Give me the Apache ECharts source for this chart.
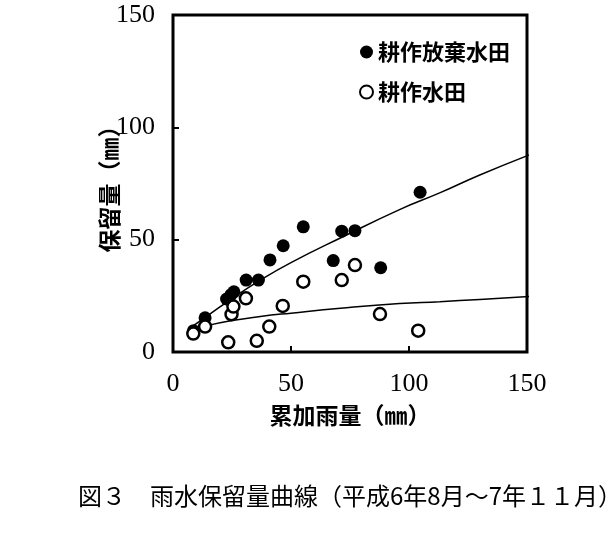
<!DOCTYPE html>
<html>
<head>
<meta charset="utf-8">
<script src="https://cdn.jsdelivr.net/npm/echarts@6/dist/echarts.min.js"></script>
<style>
  html, body { margin: 0; padding: 0; background: #fff; }
  #main { width: 611px; height: 551px; }
</style>
</head>
<body>
<div id="main"></div>
<script>
// 耕作放棄水田 (filled) : [累加雨量, 保留量]
var abandoned = [
  [8.7, 9.5], [13.6, 15.2], [22.7, 23.6], [24.6, 25.5], [25.8, 26.8],
  [31, 32], [36.2, 32], [41.1, 41], [46.7, 47.3], [55.2, 55.7],
  [67.9, 40.7], [71.5, 53.8], [77.1, 54], [88, 37.5], [104.7, 71.1]
];
// 耕作水田 (open)
var cultivated = [
  [8.6, 8.2], [13.6, 11.3], [23.4, 4.3], [24.8, 16.8], [25.6, 20.2],
  [30.9, 23.9], [35.5, 5.0], [40.8, 11.3], [46.5, 20.5], [55.2, 31.3],
  [71.5, 32], [77.1, 38.7], [87.7, 16.9], [103.9, 9.5]
];
// curves
var curveAbandoned = [
  [7, 10.5], [15, 16.4], [25, 23.8], [37, 32], [50, 39.8], [72, 51.3],
  [96, 63.4], [113, 70.8], [130, 78.8], [154, 89]
];
var curveCultivated = [
  [13, 11.4], [25, 14], [37, 15.8], [50, 17.3], [71, 19.5], [96, 21.6],
  [113, 22.4], [130, 23.4], [153, 24.8]
];

var labelFont = "'Liberation Serif', 'DejaVu Serif', serif";
var cjkFont = "'Noto Sans CJK JP', 'Noto Sans CJK SC', sans-serif";

var chart = echarts.init(document.getElementById("main"));
chart.setOption({
  animation: false,
  backgroundColor: "#fff",
  grid: {
    left: 173, top: 15, right: 84, bottom: 199,
    show: true, borderColor: "#000", borderWidth: 3
  },
  legend: {
    data: ["耕作放棄水田", "耕作水田"],
    orient: "vertical",
    left: 354, top: 36,
    itemWidth: 13, itemHeight: 13, itemGap: 18,
    icon: "circle",
    textStyle: { fontFamily: cjkFont, fontSize: 22, fontWeight: "bold", color: "#000" }
  },
  xAxis: {
    type: "value", min: 0, max: 150, interval: 50,
    name: "累加雨量（㎜）", nameLocation: "middle", nameGap: 52,
    nameMoveOverlap: false,
    nameTextStyle: { fontFamily: cjkFont, fontSize: 23, fontWeight: "bold", color: "#000" },
    axisLine: { show: false },
    axisTick: { inside: true, length: 6, lineStyle: { color: "#000", width: 2 } },
    axisLabel: { margin: 19, color: "#000", fontFamily: labelFont, fontSize: 26 },
    splitLine: { show: false }
  },
  yAxis: {
    type: "value", min: 0, max: 150, interval: 50,
    name: "保留量（㎜）", nameLocation: "middle", nameGap: 52,
    nameMoveOverlap: false,
    nameTextStyle: { fontFamily: cjkFont, fontSize: 23, fontWeight: "bold", color: "#000" },
    axisLine: { show: false },
    axisTick: { inside: true, length: 6, lineStyle: { color: "#000", width: 2 } },
    axisLabel: { margin: 18, color: "#000", fontFamily: labelFont, fontSize: 26 },
    splitLine: { show: false }
  },
  graphic: [{
    type: "text", left: 78, top: 484,
    style: {
      text: "図３　雨水保留量曲線（平成6年8月～7年１１月）",
      font: "24px " + cjkFont, fill: "#000"
    }
  }],
  series: [
    {
      name: "curveA", type: "line", data: curveAbandoned, smooth: true,
      showSymbol: false, clip: false, silent: true, z: 10,
      lineStyle: { color: "#000", width: 1.5 }
    },
    {
      name: "curveB", type: "line", data: curveCultivated, smooth: true,
      showSymbol: false, clip: false, silent: true, z: 10,
      lineStyle: { color: "#000", width: 1.5 }
    },
    {
      name: "耕作放棄水田", type: "scatter", data: abandoned,
      symbol: "circle", symbolSize: 13, z: 11,
      itemStyle: { color: "#000", opacity: 1 }
    },
    {
      name: "耕作水田", type: "scatter", data: cultivated,
      symbol: "circle", symbolSize: 12, z: 12,
      itemStyle: { color: "#fff", borderColor: "#000", borderWidth: 2.5, opacity: 1 }
    }
  ]
});
</script>
</body>
</html>
